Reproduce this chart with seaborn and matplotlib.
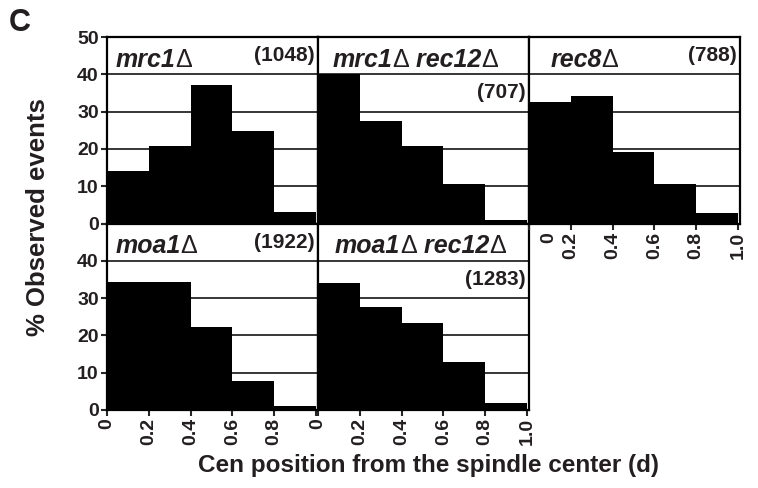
import numpy as np
import pandas as pd
import seaborn as sns
import matplotlib.pyplot as plt
from matplotlib.transforms import ScaledTranslation

# bins of centromere position (fraction of half-spindle)
bin_edges = [0.0, 0.2, 0.4, 0.6, 0.8, 1.0]
bin_centers = [0.1, 0.3, 0.5, 0.7, 0.9]

# % observed events per bin
mrc1 = [14.0, 20.7, 37.0, 24.8, 3.2]
mrc1_rec12 = [40.0, 27.5, 20.7, 10.6, 0.9]
rec8 = [32.7, 34.3, 19.3, 10.5, 2.9]
moa1 = [34.4, 34.3, 22.3, 7.8, 1.1]
moa1_rec12 = [34.0, 27.7, 23.4, 13.0, 2.0]

# number of events per strain
n_events = [1048, 707, 788, 1922, 1283]

tick_pos = [0, 0.2, 0.4, 0.6, 0.8, 1.0]
tick_text = ["0", "0.2", "0.4", "0.6", "0.8", "1.0"]

INK = "#231f20"

sns.set_style("ticks")
plt.rcParams["font.family"] = ["Liberation Sans", "DejaVu Sans"]

fig = plt.figure(figsize=(7.58, 4.88), dpi=100)

W, H = 758, 488
left0, col_w = 107, 211
top0, row_h = 37, 186.5


def make_ax(row, col):
    x = (left0 + col * col_w) / W
    y = 1 - (top0 + (row + 1) * row_h) / H
    return fig.add_axes([x, y, col_w / W, row_h / H])


def gene_label(ax, parts, x, y):
    """Writes strain names: gene in bold italic, delta sign plain."""
    prev = None
    for txt, is_gene in parts:
        kw = dict(fontsize=18, color=INK, va="bottom", ha="left")
        if is_gene:
            kw.update(fontweight="bold", fontstyle="italic")
        else:
            kw.update(fontweight="normal")
        if prev is None:
            prev = ax.text(x, y, txt, transform=ax.transAxes, **kw)
        else:
            prev = ax.annotate(txt, xy=(1, 0), xycoords=prev, **kw)


panels = [
    dict(vals=mrc1, n=n_events[0], pos=(0, 0),
         name=[("mrc1", True), ("Δ", False)], name_x=0.04,
         n_y=0.9, xlabels=False, ylab=True, last=False),
    dict(vals=mrc1_rec12, n=n_events[1], pos=(0, 1),
         name=[("mrc1", True), ("Δ", False), (" rec12", True), ("Δ", False)],
         name_x=0.07, n_y=0.7, xlabels=False, ylab=False, last=False),
    dict(vals=rec8, n=n_events[2], pos=(0, 2),
         name=[("rec8", True), ("Δ", False)], name_x=0.1,
         n_y=0.9, xlabels=True, ylab=False, last=True),
    dict(vals=moa1, n=n_events[3], pos=(1, 0),
         name=[("moa1", True), ("Δ", False)], name_x=0.04,
         n_y=0.9, xlabels=True, ylab=True, last=False),
    dict(vals=moa1_rec12, n=n_events[4], pos=(1, 1),
         name=[("moa1", True), ("Δ", False), (" rec12", True), ("Δ", False)],
         name_x=0.08, n_y=0.7, xlabels=True, ylab=False, last=True),
]

axes = []
for p in panels:
    ax = make_ax(*p["pos"])
    axes.append(ax)
    df = pd.DataFrame({"pos": bin_centers, "pct": p["vals"]})
    sns.histplot(data=df, x="pos", weights="pct", bins=bin_edges, ax=ax,
                 color="black", alpha=1, edgecolor="black", linewidth=0,
                 zorder=3)
    ax.set_xlim(0, 1.01)
    ax.set_ylim(0, 50)
    ax.set_xlabel("")
    ax.set_ylabel("")

    ax.set_yticks([0, 10, 20, 30, 40, 50])
    ax.grid(axis="y", color="black", linewidth=1.1)
    ax.set_axisbelow(True)

    if p["ylab"]:
        ylabels = ["0", "10", "20", "30", "40", "50"]
        if p["pos"][0] == 1:
            ylabels[-1] = ""
        ax.set_yticklabels(ylabels, fontsize=14, fontweight="bold", color=INK)
        ax.tick_params(axis="y", length=4, width=1.5, pad=2)
    else:
        ax.set_yticklabels([])
        ax.tick_params(axis="y", length=0)

    ax.set_xticks(tick_pos)
    if p["xlabels"]:
        labs = list(tick_text)
        if not p["last"]:
            labs[-1] = ""
        ax.set_xticklabels(labs, rotation=90, fontsize=14, fontweight="bold",
                           color=INK)
    else:
        ax.set_xticklabels([])
    ax.tick_params(axis="x", length=4, width=1.5, pad=2)

    for s in ax.spines.values():
        s.set_visible(True)
        s.set_linewidth(1.6)
        s.set_color("black")

    gene_label(ax, p["name"], p["name_x"], 0.815)
    ax.text(0.985, p["n_y"], f"({p['n']})", transform=ax.transAxes,
            ha="right", va="center", fontsize=15, fontweight="bold",
            color=INK)

# rec8 panel: the "0" label sits a bit to the right, clear of the panel below
first = axes[2].get_xticklabels()[0]
first.set_transform(first.get_transform()
                    + ScaledTranslation(0.2, 0, fig.dpi_scale_trans))

# keep the rec8 tick labels above the lower panels
axes[2].set_zorder(5)
axes[2].patch.set_alpha(1)

fig.text(0.05, 0.555, "% Observed events", rotation=90, ha="center",
         va="center", fontsize=18.5, fontweight="bold", color=INK)
fig.text(0.565, 0.047, "Cen position from the spindle center (d)",
         ha="center", va="center", fontsize=17.5, fontweight="bold",
         color=INK)
fig.text(0.012, 0.953, "C", ha="left", va="center", fontsize=22,
         fontweight="bold", color=INK)

fig.savefig("out.png", dpi=100)
